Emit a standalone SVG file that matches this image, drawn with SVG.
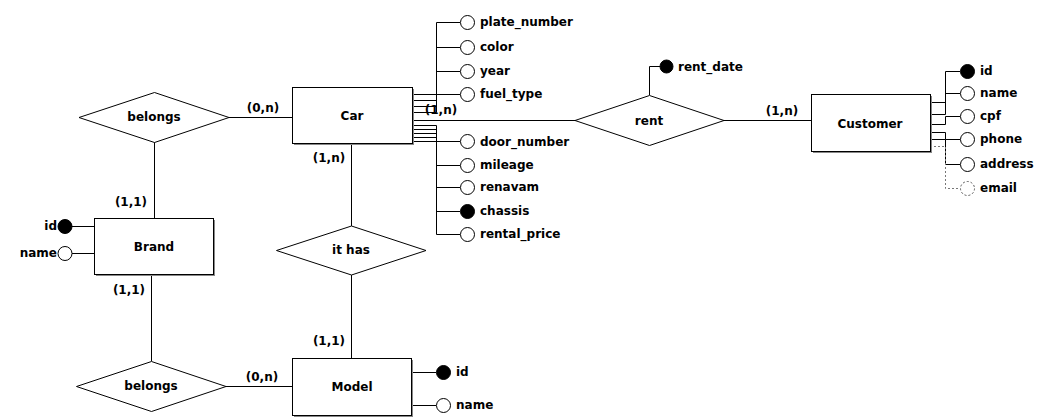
<svg xmlns="http://www.w3.org/2000/svg" width="1047" height="420" viewBox="0 0 1047 420">
<style>
text{font-family:"DejaVu Sans","Liberation Sans",sans-serif;font-weight:bold;font-size:12px;fill:#000}
.c{text-anchor:middle;dominant-baseline:central}
.l{text-anchor:start;dominant-baseline:central}
.r{text-anchor:end;dominant-baseline:central}
.ent{fill:#fff;stroke:#000;stroke-width:1}
.sh{fill:#888}
.rel{fill:#fff;stroke:#000;stroke-width:1}
.ln{fill:none;stroke:#000;stroke-width:1}
.dash{fill:none;stroke:#777;stroke-width:1;stroke-dasharray:2,2}
.at{fill:#fff;stroke:#000;stroke-width:1}
.k{fill:#000;stroke:#000;stroke-width:1}
.opt{fill:#fff;stroke:#555;stroke-width:1;stroke-dasharray:2,2}
</style>
<rect width="1047" height="420" fill="#fff"/>
<g id="connectors">
<!-- car upper attributes -->
<path class="ln" d="M412 94.5H460"/>
<path class="ln" d="M412 100.5H436.5V71.5H460"/>
<path class="ln" d="M412 106.5H436.5V47.5H460"/>
<path class="ln" d="M412 112.5H436.5V22.5H460"/>
<!-- car lower attributes -->
<path class="ln" d="M412 125.5H436.5V234.5H460"/>
<path class="ln" d="M412 129.5H436.5V211.5H460"/>
<path class="ln" d="M412 133.5H436.5V187.5H460"/>
<path class="ln" d="M412 137.5H436.5V165.5H460"/>
<path class="ln" d="M412 141.5H460"/>
<!-- car - rent - customer -->
<path class="ln" d="M412 120.5H575"/>
<path class="ln" d="M724 120.5H811"/>
<path class="ln" d="M649.5 95V66.5H660"/>
<!-- customer attributes -->
<path class="ln" d="M930 114.5H945.5V71.5H960"/>
<path class="ln" d="M930 102.5H945.5V93.5H960"/>
<path class="ln" d="M930 124.5H945.5V116.5H960"/>
<path class="ln" d="M930 132.5H945.5V139.5H960"/>
<path class="ln" d="M930 139.5H945.5V164.5H960"/>
<path class="dash" d="M930 146.5H945.5V188.5H960"/>
<!-- brand / belongs / car -->
<path class="ln" d="M229 117.5H292"/>
<path class="ln" d="M154.5 142V218"/>
<path class="ln" d="M72 226.5H94"/>
<path class="ln" d="M72 253.5H94"/>
<path class="ln" d="M151.5 274V361"/>
<path class="ln" d="M226 386.5H292"/>
<!-- car / it has / model -->
<path class="ln" d="M351.5 143V226"/>
<path class="ln" d="M351.5 275V358"/>
<path class="ln" d="M411 372.5H436"/>
<path class="ln" d="M411 405.5H436"/>
</g>
<g id="car">
<rect class="sh" x="294" y="89" width="120" height="56"/>
<rect class="ent" x="292.5" y="87.5" width="120" height="56"/>
<text class="c" x="352" y="116">Car</text>
</g>
<g id="car-attributes">
<circle class="at" cx="467.5" cy="22.5" r="7"/><text class="l" x="480" y="22">plate_number</text>
<circle class="at" cx="467.5" cy="47.5" r="7"/><text class="l" x="480" y="47">color</text>
<circle class="at" cx="467.5" cy="71.5" r="7"/><text class="l" x="480" y="71">year</text>
<circle class="at" cx="467.5" cy="94.5" r="7"/><text class="l" x="480" y="94">fuel_type</text>
<circle class="at" cx="467.5" cy="141.5" r="7"/><text class="l" x="480" y="142">door_number</text>
<circle class="at" cx="467.5" cy="165.5" r="7"/><text class="l" x="480" y="165">mileage</text>
<circle class="at" cx="467.5" cy="187.5" r="7"/><text class="l" x="480" y="187">renavam</text>
<circle class="k" cx="467.5" cy="211.5" r="7"/><text class="l" x="480" y="211">chassis</text>
<circle class="at" cx="467.5" cy="234.5" r="7"/><text class="l" x="480" y="234">rental_price</text>
</g>
<g id="rent">
<polygon class="rel" points="575,120.5 649.5,95.5 724,120.5 649.5,145.5"/>
<text class="c" x="649" y="121">rent</text>
<circle class="k" cx="666.5" cy="66.5" r="6.5"/><text class="l" x="678" y="67">rent_date</text>
</g>
<g id="customer">
<rect class="sh" x="813" y="96" width="119" height="57"/>
<rect class="ent" x="811.5" y="94.5" width="119" height="57"/>
<text class="c" x="870" y="124">Customer</text>
</g>
<g id="customer-attributes">
<circle class="k" cx="967.5" cy="71.5" r="7"/><text class="l" x="980" y="71">id</text>
<circle class="at" cx="967.5" cy="93.5" r="7"/><text class="l" x="980" y="93">name</text>
<circle class="at" cx="967.5" cy="116.5" r="7"/><text class="l" x="980" y="116">cpf</text>
<circle class="at" cx="967.5" cy="139.5" r="7"/><text class="l" x="980" y="139">phone</text>
<circle class="at" cx="967.5" cy="164.5" r="7"/><text class="l" x="980" y="164">address</text>
<circle class="opt" cx="967.5" cy="188.5" r="7"/><text class="l" x="980" y="188">email</text>
</g>
<g id="belongs-top">
<polygon class="rel" points="79,117.5 154.5,92.5 229,117.5 154.5,142.5"/>
<text class="c" x="154" y="117">belongs</text>
</g>
<g id="brand">
<rect class="sh" x="96" y="220" width="119" height="56"/>
<rect class="ent" x="94.5" y="218.5" width="119" height="56"/>
<text class="c" x="154" y="247">Brand</text>
<circle class="k" cx="65" cy="226.5" r="7"/><text class="r" x="57" y="226">id</text>
<circle class="at" cx="65" cy="253.5" r="7"/><text class="r" x="57" y="253">name</text>
</g>
<g id="belongs-bottom">
<polygon class="rel" points="76.5,386.5 151.5,361.5 226,386.5 151.5,411.5"/>
<text class="c" x="151" y="386">belongs</text>
</g>
<g id="it-has">
<polygon class="rel" points="276.5,250.5 351.5,226 426,250.5 351.5,275"/>
<text class="c" x="351" y="250">it has</text>
</g>
<g id="model">
<rect class="sh" x="294" y="360" width="119" height="57"/>
<rect class="ent" x="292.5" y="358.5" width="119" height="57"/>
<text class="c" x="352" y="387">Model</text>
<circle class="k" cx="443.5" cy="372.5" r="7"/><text class="l" x="456" y="372">id</text>
<circle class="at" cx="443.5" cy="405.5" r="7"/><text class="l" x="456" y="405">name</text>
</g>
<g id="cardinalities">
<text class="c" x="263" y="108">(0,n)</text>
<text class="c" x="441" y="110">(1,n)</text>
<text class="c" x="329" y="158">(1,n)</text>
<text class="c" x="782" y="111">(1,n)</text>
<text class="c" x="131" y="202">(1,1)</text>
<text class="c" x="129" y="290">(1,1)</text>
<text class="c" x="329" y="341">(1,1)</text>
<text class="c" x="262" y="377">(0,n)</text>
</g>
</svg>
